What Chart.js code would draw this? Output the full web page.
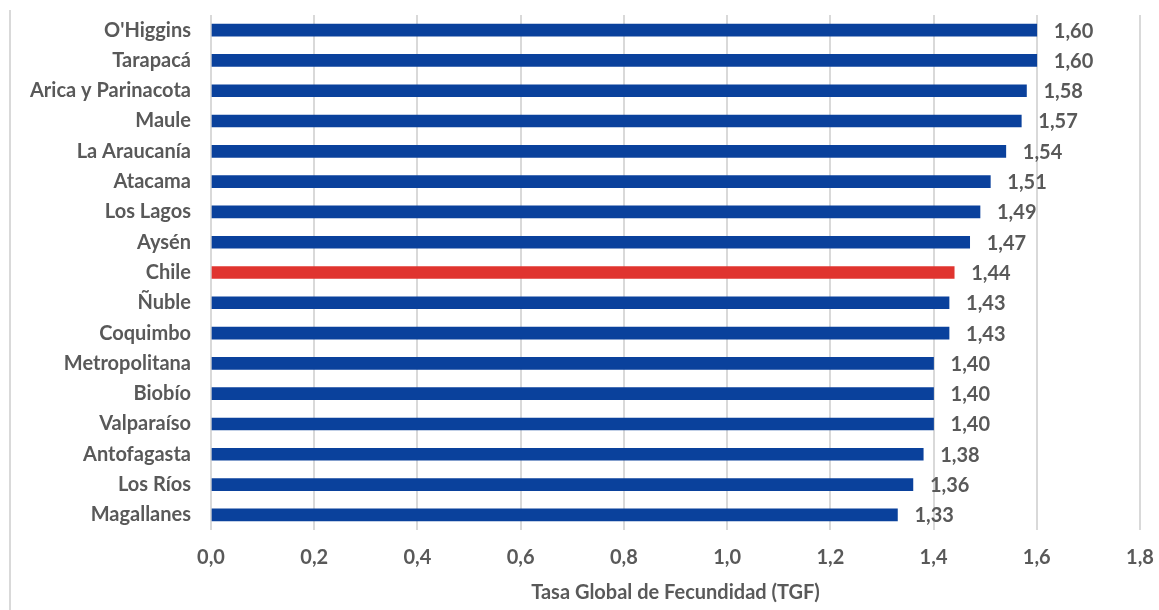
<!DOCTYPE html>
<html>
<head>
<meta charset="utf-8">
<script src="https://cdn.jsdelivr.net/npm/chart.js@4.4.1/dist/chart.umd.min.js"></script>
<style>
  html, body { margin: 0; padding: 0; background: #ffffff; }
  #wrap { position: relative; width: 1159px; height: 610px; }
  #frame { position: absolute; left: 9px; top: 10px; bottom: 0; border-left: 2px solid #d9d9d9; }
  canvas { position: absolute; left: 0; top: 0; }
</style>
</head>
<body>
<div id="wrap">
  <div id="frame"></div>
  <canvas id="chart" width="1159" height="610"></canvas>
</div>
<script>
// Regiones de Chile y su Tasa Global de Fecundidad
const regiones = [
  "O'Higgins", "Tarapacá", "Arica y Parinacota", "Maule", "La Araucanía",
  "Atacama", "Los Lagos", "Aysén", "Chile", "Ñuble", "Coquimbo",
  "Metropolitana", "Biobío", "Valparaíso", "Antofagasta", "Los Ríos", "Magallanes"
];
const tgf = [1.60, 1.60, 1.58, 1.57, 1.54, 1.51, 1.49, 1.47, 1.44, 1.43, 1.43, 1.40, 1.40, 1.40, 1.38, 1.36, 1.33];
const nacional = "Chile";
const ticksX = [0, 0.2, 0.4, 0.6, 0.8, 1.0, 1.2, 1.4, 1.6, 1.8];
const tituloX = "Tasa Global de Fecundidad (TGF)";

const AZUL = "#0a419c";
const ROJO = "#e0342f";
const TEXTO = "#595959";
const FUENTE = "Lato, 'Open Sans', sans-serif";
const TAM = 20;

const fmt = v => v.toFixed(1).replace(".", ",");
const fmt2 = v => v.toFixed(2).replace(".", ",");

// Etiquetas de valor al final de cada barra
const etiquetas = {
  id: "etiquetas",
  afterDatasetsDraw(chart) {
    const ctx = chart.ctx;
    const meta = chart.getDatasetMeta(0);
    ctx.save();
    ctx.font = "bold " + TAM + "px " + FUENTE;
    ctx.fillStyle = TEXTO;
    ctx.textAlign = "left";
    ctx.textBaseline = "middle";
    meta.data.forEach((bar, i) => {
      ctx.fillText(fmt2(tgf[i]), bar.x + 17, bar.y + 1);
    });
    ctx.restore();
  }
};

new Chart(document.getElementById("chart"), {
  type: "bar",
  data: {
    labels: regiones,
    datasets: [{
      data: tgf,
      backgroundColor: regiones.map(r => r === nacional ? ROJO : AZUL),
      borderWidth: 0,
      barThickness: 12
    }]
  },
  options: {
    indexAxis: "y",
    responsive: false,
    animation: false,
    layout: { padding: 0 },
    plugins: { legend: { display: false }, tooltip: { enabled: false } },
    scales: {
      x: {
        min: 0, max: 1.8,
        afterBuildTicks: s => { s.ticks = ticksX.map(v => ({ value: v })); },
        afterFit: s => { s.height = 80; s.paddingLeft = 0; s.paddingRight = 19; },
        grid: { color: "#d9d9d9", lineWidth: 2, drawTicks: false },
        border: { display: false },
        ticks: {
          callback: v => fmt(v),
          color: TEXTO,
          padding: 16,
          font: { family: FUENTE, size: TAM, weight: "bold" }
        },
        title: {
          display: true,
          text: tituloX,
          color: TEXTO,
          padding: { top: 0, bottom: 5 },
          font: { family: FUENTE, size: TAM, weight: "bold" }
        }
      },
      y: {
        afterFit: s => { s.width = 211; s.paddingTop = 15; s.paddingBottom = 0; },
        grid: { display: false },
        border: { display: false },
        ticks: {
          color: TEXTO,
          padding: 12,
          font: { family: FUENTE, size: TAM, weight: "bold" }
        }
      }
    }
  },
  plugins: [etiquetas]
});
</script>
</body>
</html>
